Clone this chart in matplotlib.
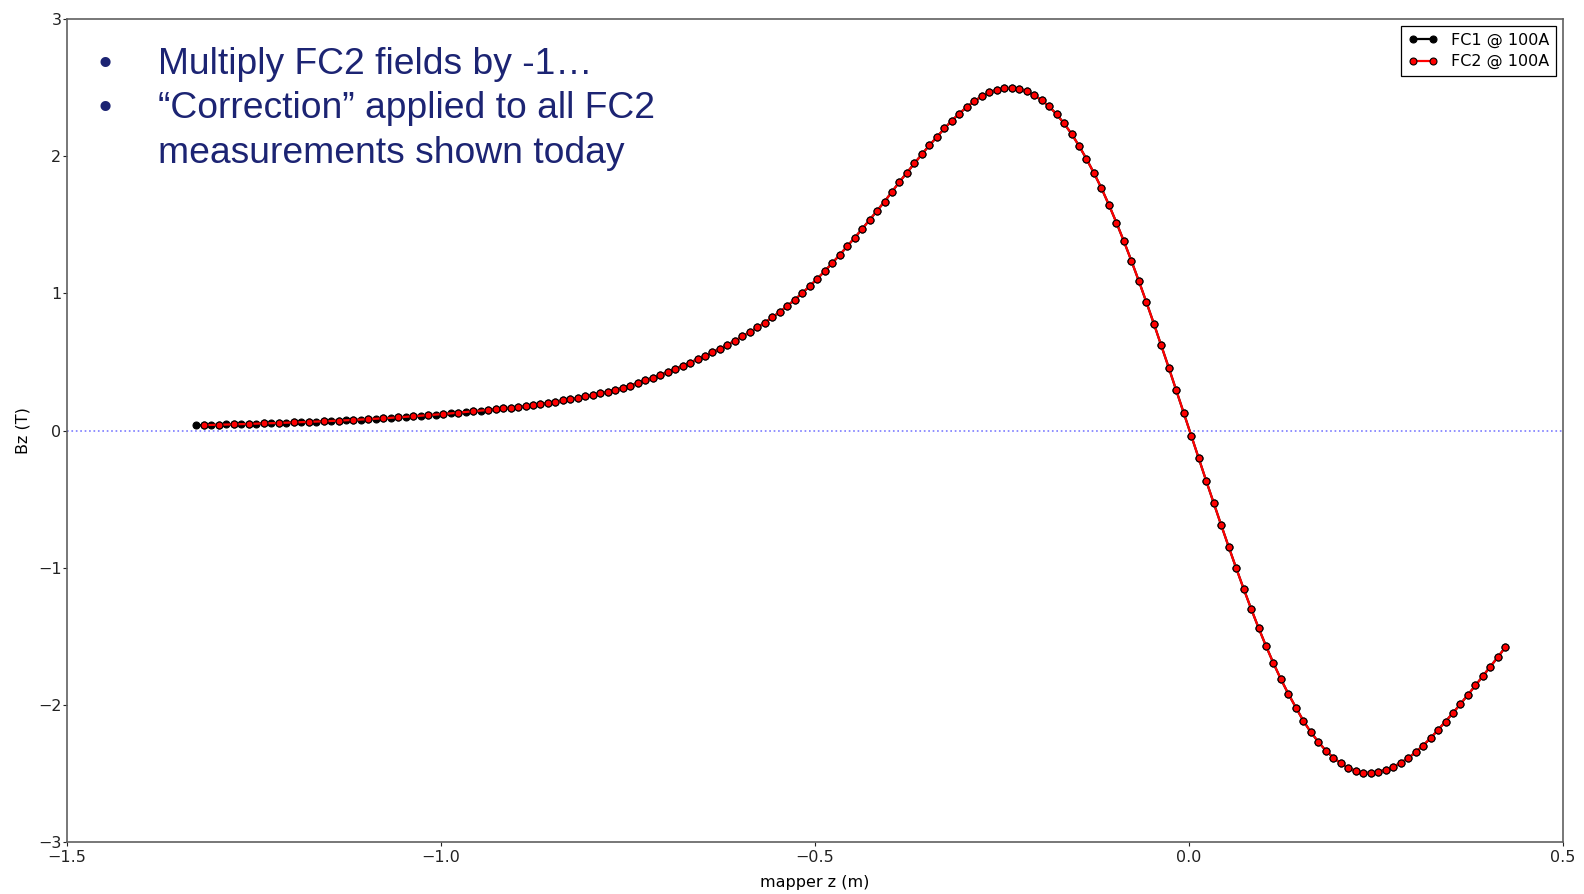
import numpy as np
import matplotlib
matplotlib.use('Agg')
import matplotlib.pyplot as plt

# Pozycje pomiarowe mappera (m): krok 0.01 m
z_start = -1.327
z_stop = 0.423
z_step = 0.01

# Bz (T) dla FC1 @ 100A, kolejno od z_start
bz_fc1 = [
    0.038, 0.039, 0.041, 0.042, 0.044, 0.045, 0.047, 0.048, 0.050, 0.052,
    0.053, 0.055, 0.057, 0.059, 0.061, 0.063, 0.065, 0.067, 0.070, 0.072,
    0.075, 0.077, 0.080, 0.083, 0.086, 0.089, 0.093, 0.096, 0.100, 0.104,
    0.108, 0.112, 0.116, 0.120, 0.125, 0.130, 0.135, 0.140, 0.145, 0.150,
    0.155, 0.161, 0.167, 0.173, 0.180, 0.187, 0.194, 0.202, 0.210, 0.219,
    0.228, 0.238, 0.248, 0.259, 0.270, 0.283, 0.297, 0.312, 0.328, 0.346,
    0.365, 0.385, 0.405, 0.426, 0.448, 0.471, 0.495, 0.520, 0.545, 0.570,
    0.597, 0.625, 0.655, 0.686, 0.718, 0.752, 0.787, 0.825, 0.865, 0.908,
    0.954, 1.002, 1.053, 1.106, 1.162, 1.220, 1.280, 1.342, 1.405, 1.469,
    1.535, 1.602, 1.669, 1.741, 1.813, 1.880, 1.948, 2.015, 2.079, 2.141,
    2.202, 2.259, 2.311, 2.359, 2.401, 2.437, 2.465, 2.484, 2.495, 2.499,
    2.491, 2.473, 2.444, 2.408, 2.363, 2.306, 2.239, 2.163, 2.076, 1.980,
    1.877, 1.767, 1.645, 1.516, 1.380, 1.238, 1.090, 0.937, 0.780, 0.620,
    0.458, 0.293, 0.128, -0.038, -0.203, -0.366, -0.528, -0.688, -0.846, -1.001,
    -1.152, -1.298, -1.438, -1.571, -1.697, -1.814, -1.921, -2.020, -2.117, -2.200,
    -2.270, -2.334, -2.385, -2.426, -2.460, -2.482, -2.494, -2.496, -2.489, -2.474,
    -2.453, -2.423, -2.389, -2.346, -2.297, -2.243, -2.183, -2.122, -2.059, -1.994,
    -1.927, -1.859, -1.790, -1.722, -1.652, -1.580,
]

# FC2 mierzony co 0.02 m do z = -0.937, dalej co 0.01 m (po odwroceniu znaku)
fc2_idx = list(range(1, 40, 2)) + list(range(40, 176))

labels = ['FC1 @ 100A', 'FC2 @ 100A']
x_ticks = [-1.5, -1.0, -0.5, 0.0, 0.5]
y_ticks = [-3, -2, -1, 0, 1, 2, 3]
notes = ['Multiply FC2 fields by -1\u2026',
         '\u201cCorrection\u201d applied to all FC2',
         'measurements shown today']

z_fc1 = np.round(np.arange(z_start, z_stop + z_step / 10, z_step), 3)
bz_fc1 = np.array(bz_fc1)
z_fc2 = z_fc1[fc2_idx]
bz_fc2 = bz_fc1[fc2_idx]

fig = plt.figure(figsize=(15.84, 8.94), dpi=100)
ax = fig.add_axes([0.0423, 0.0582, 0.9444, 0.9205])

ax.axhline(0, color='#7b7bff', linestyle=':', linewidth=1.2, zorder=1)

ax.plot(z_fc1, bz_fc1, '-o', color='black', linewidth=1.6, markersize=5,
        markeredgecolor='black', markeredgewidth=0.8, label=labels[0], zorder=2)
ax.plot(z_fc2, bz_fc2, '-o', color='red', linewidth=1.6, markersize=5,
        markerfacecolor='red', markeredgecolor='black', markeredgewidth=0.8,
        label=labels[1], zorder=3)

ax.set_xlim(-1.5, 0.5)
ax.set_ylim(-3, 3)
ax.set_xticks(x_ticks)
ax.set_xticklabels(['\u2212%.1f' % abs(v) if v < 0 else '%.1f' % v for v in x_ticks])
ax.set_yticks(y_ticks)
ax.set_yticklabels(['\u2212%d' % abs(v) if v < 0 else '%d' % v for v in y_ticks])
ax.tick_params(axis='both', direction='out', length=3, width=0.8,
               labelsize=11.5, colors='#222222')
ax.tick_params(axis='x', pad=3)
ax.tick_params(axis='y', pad=1)
ax.tick_params(top=False, right=False)
for s in ax.spines.values():
    s.set_color('#606060')
    s.set_linewidth(1.2)

ax.set_xlabel('mapper z (m)', fontsize=11.5, labelpad=7)
ax.set_ylabel('Bz (T)', fontsize=11.5, labelpad=5)

leg = ax.legend(loc='upper right', fontsize=11.5, numpoints=2, fancybox=False,
                handlelength=1.9, borderaxespad=0.45, labelspacing=0.4,
                framealpha=1)
leg.get_frame().set_edgecolor('black')
leg.get_frame().set_linewidth(0.9)

# Notatki na slajdzie
navy = '#1c2473'
base = [1 - 74 / 894, 1 - 118 / 894, 1 - 163 / 894]
fig.text(0.0625, base[0], '\u2022', color=navy, fontsize=26.8,
         family='Liberation Sans', va='baseline')
fig.text(0.0625, base[1], '\u2022', color=navy, fontsize=26.8,
         family='Liberation Sans', va='baseline')
for txt, y in zip(notes, base):
    fig.text(0.0997, y, txt, color=navy, fontsize=26.8,
             family='Liberation Sans', va='baseline')

fig.savefig('out.png', dpi=100)
